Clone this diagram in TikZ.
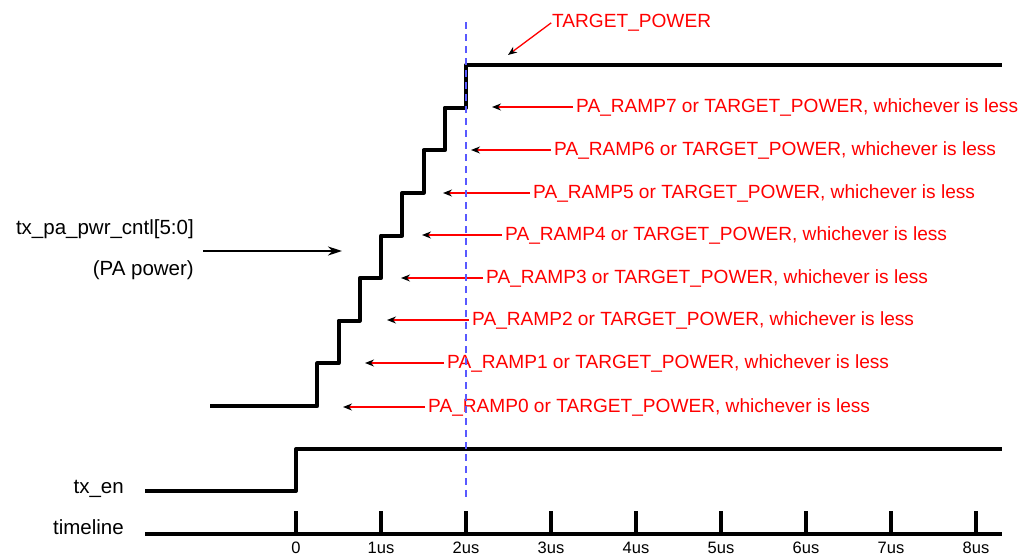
\documentclass[tikz,border=0pt]{standalone}
\usepackage{fontspec}
\setmainfont{Liberation Sans}
\usetikzlibrary{arrows.meta}

\begin{document}
\begin{tikzpicture}[x=1pt, y=-1pt,
    sig/.style={line width=4pt, line join=round},
    ptr/.style={red, line width=1.3pt, -{Stealth[black,length=9pt,width=7pt]}, shorten <=3pt},
    ramp/.style={text=red, font=\fontsize{19.1}{22}\selectfont, inner sep=0pt},
    lbl/.style={font=\fontsize{20.5}{24}\selectfont, inner sep=0pt},
    ticklbl/.style={font=\fontsize{16.5}{19}\selectfont, inner sep=0pt, anchor=base}]
    \useasboundingbox (0,0) rectangle (1019,557);
    % signal names
    \node[lbl, anchor=base east] (pwr) at (194,234) {tx\_pa\_pwr\_cntl[5:0]};
    \node[lbl, anchor=base east] (pwrsub) at (194,275) {(PA power)};
    \node[lbl, anchor=base east] (en) at (124,493) {tx\_en};
    \node[lbl, anchor=base east] (tl) at (124,534) {timeline};
    \coordinate (pwrtail) at (203,251);
    \coordinate (pwrtip) at (342,251);
    \draw[line width=2.2pt, -{Stealth[length=14pt,width=9pt]}] (pwrtail) -- (pwrtip);
    % PA power staircase
    \draw[sig] (210,406) foreach \k in {1,...,8} {-- ({296+21.25*\k},{406-42.625*(\k-1)}) -- ({296+21.25*\k},{406-42.625*\k})} -- (1002,65);
    % tx_en
    \draw[sig] (145,491) -- (296,491) -- (296,449) -- (1002,449);
    % timeline and ticks
    \draw[sig] (145,534) -- (1002,534);
    \foreach \i/\t in {0/0,1/1us,2/2us,3/3us,4/4us,5/5us,6/6us,7/7us,8/8us} {
        \draw[line width=4pt] ({296+85*\i},511) -- ({296+85*\i},534);
        \node[ticklbl] (t\i) at ({296+85*\i},553) {\t};
    }
    % ramp step annotations
    \foreach \k/\tx/\ty/\ax in {0/428/407/343, 1/447/363/365, 2/472/320/387, 3/486/278/401,
                                4/505/235/422, 5/533/193/443, 6/554/150/471, 7/576/107/492} {
        \node[ramp, anchor=west] (r\k) at (\tx,\ty) {PA\_RAMP\k{} or TARGET\_POWER, whichever is less};
        \coordinate (a\k) at (\ax,\ty);
        \draw[ptr] (r\k.west) -- (a\k);
    }
    \node[ramp, anchor=base west] (tgt) at (552,27) {TARGET\_POWER};
    \coordinate (tgttip) at (508,55);
    \draw[ptr, shorten <=1pt] (tgt.west) -- (tgttip);
    % 2us marker
    \draw[blue!65, line width=1.1pt, dash pattern=on 7pt off 5pt] (466,22) -- (466,500);
\end{tikzpicture}
\end{document}
